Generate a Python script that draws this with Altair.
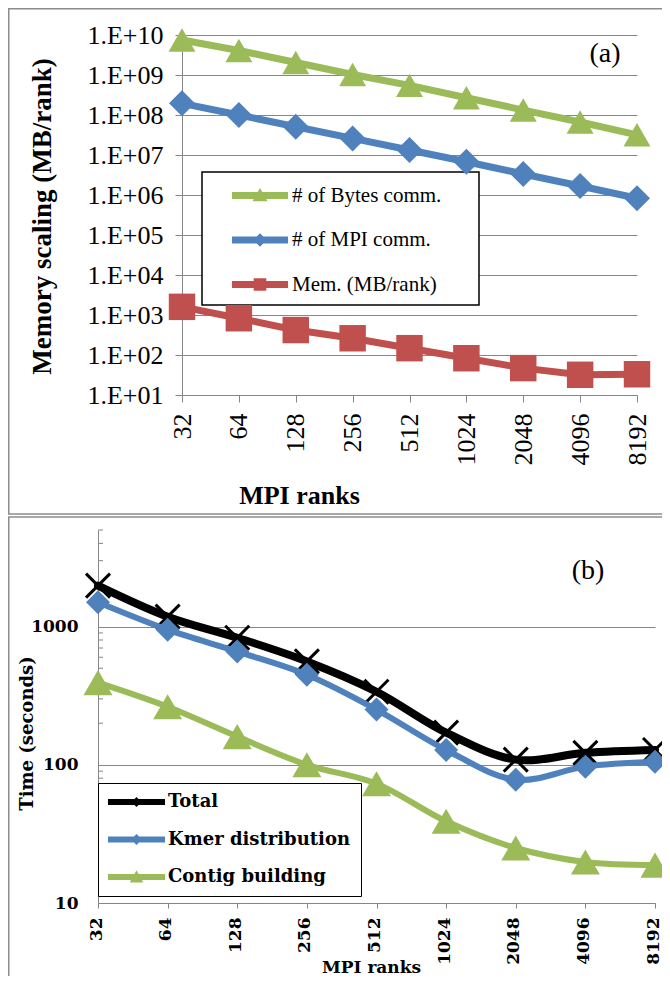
import altair as alt
import pandas as pd

# ---------------- data ----------------
ranks = ["32", "64", "128", "256", "512", "1024", "2048", "4096", "8192"]

# panel (a)
a_names = ["# of Bytes comm.", "# of MPI comm.", "Mem. (MB/rank)"]
a_bytes = [7.5e9, 4.1e9, 2.05e9, 1.03e9, 5.5e8, 2.7e8, 1.33e8, 6.7e7, 3.2e7]
a_mpi = [1.96e8, 1.0e8, 5.1e7, 2.6e7, 1.33e7, 6.8e6, 3.35e6, 1.68e6, 8.3e5]
a_mem = [1600, 830, 420, 262, 148, 83, 47, 32, 33]
a_colors = ["#9BBB59", "#4F81BD", "#C0504D"]
a_markers = ["triangle-up", "diamond", "square"]
a_marker_sizes = [729, 676, 700]
a_ytick_values = [1e1, 1e2, 1e3, 1e4, 1e5, 1e6, 1e7, 1e8, 1e9, 1e10]
a_ytick_labels = ["1.E+01", "1.E+02", "1.E+03", "1.E+04", "1.E+05",
                  "1.E+06", "1.E+07", "1.E+08", "1.E+09", "1.E+10"]
a_tag = ["(a)"]

# panel (b)
b_names = ["Total", "Kmer distribution", "Contig building"]
b_total = [1980, 1180, 830, 560, 338, 171, 109, 122, 128]
b_kmer = [1500, 950, 660, 449, 251, 128, 78, 97, 105]
b_contig = [393, 263, 160, 100, 73, 39, 25, 19.8, 18.8]
b_colors = ["#000000", "#4F81BD", "#9BBB59"]
b_ytick_values = [10, 100, 1000]
b_minor_ticks = [20, 30, 40, 50, 60, 70, 80, 90,
                 200, 300, 400, 500, 600, 700, 800, 900,
                 2000, 3000, 4000, 5000]
b_tag = ["(b)"]

df_a = pd.DataFrame({
    "rank": ranks * 3,
    "series": [a_names[0]] * 9 + [a_names[1]] * 9 + [a_names[2]] * 9,
    "value": a_bytes + a_mpi + a_mem,
})
df_b = pd.DataFrame({
    "rank": ranks * 3,
    "series": [b_names[0]] * 9 + [b_names[1]] * 9 + [b_names[2]] * 9,
    "value": b_total + b_kmer + b_contig,
})
df_ticks = pd.DataFrame({"value": b_minor_ticks})

# ---------------- layout ----------------
W, H = 654, 968
GRAY = "#868686"
FA = "Liberation Serif"
FB = "DejaVu Serif"

# legend symbols: thick line + small marker (custom paths)
bar_a = "M-2.67,-0.33L2.67,-0.33L2.67,0.33L-2.67,0.33Z"
a_legend_paths = [
    bar_a + "M0,-0.72L0.72,0.55L-0.72,0.55Z",
    bar_a + "M0,-0.65L0.65,0L0,0.65L-0.65,0Z",
    bar_a + "M-0.6,-0.6L0.6,-0.6L0.6,0.6L-0.6,0.6Z",
]
bar_b = "M-3.17,-0.33L3.17,-0.33L3.17,0.33L-3.17,0.33Z"
b_legend_paths = [
    bar_b + "M0,-0.55L0.55,0L0,0.55L-0.55,0Z",
    bar_b + "M0,-0.6L0.6,0L0,0.6L-0.6,0Z",
    bar_b + "M0,-0.75L0.75,0.6L-0.75,0.6Z",
]

one = pd.DataFrame({"k": [0]})

# ---------- panel (a) ----------
xa = alt.X("rank:O",
           scale=alt.Scale(type="point", domain=ranks, range=[174, 629], padding=0),
           axis=alt.Axis(orient="bottom", offset=-(H - 387), labelAngle=270,
                         grid=False, domainColor=GRAY, domainWidth=1,
                         tickColor=GRAY, tickSize=7, tickWidth=1,
                         labelFont=FA, labelFontSize=26, labelColor="black",
                         labelPadding=11, labelFlush=False,
                         title="MPI ranks", titleFont=FA, titleFontSize=26,
                         titleFontWeight="bold", titleColor="black",
                         titleX=291, titleY=100, titleAlign="center",
                         titleBaseline="middle"))
a_label_expr = "[" + ",".join("'%s'" % s for s in a_ytick_labels) + \
    "][round(log(datum.value)/LN10) - 1]"
ya = alt.Y("value:Q",
           scale=alt.Scale(type="log", domain=[1e1, 1e10], range=[387, 27], nice=False),
           axis=alt.Axis(orient="left", offset=-174, values=a_ytick_values,
                         labelExpr=a_label_expr, grid=True, gridColor=GRAY,
                         gridWidth=1, domainColor=GRAY, domainWidth=1,
                         tickColor=GRAY, tickSize=7, tickWidth=1,
                         labelFont=FA, labelFontSize=26, labelColor="black",
                         labelPadding=12, labelFlush=False, labelOverlap=False,
                         title="Memory scaling (MB/rank)", titleFont=FA,
                         titleFontSize=27, titleFontWeight="bold",
                         titleColor="black", titleAngle=270, titleX=-140,
                         titleY=208, titleAlign="center", titleBaseline="middle"))

# white legend frame (drawn over the gridlines, under the legend entries)
frame_a = alt.Chart(one).mark_rect(fill="white", stroke="black", strokeWidth=1.5).encode(
    x=alt.value(194), x2=alt.value(471), y=alt.value(164), y2=alt.value(297))

layers_a = [frame_a]
for name, col, mk, sz in zip(a_names, a_colors, a_markers, a_marker_sizes):
    base = alt.Chart(df_a).transform_filter(alt.datum.series == name)
    layers_a.append(base.mark_line(color=col, strokeWidth=7, strokeCap="round",
                                   strokeJoin="round").encode(x=xa, y=ya))
    layers_a.append(base.mark_point(shape=mk, filled=True, color=col, size=sz,
                                    opacity=1, strokeWidth=0).encode(x=xa, y=ya))

legend_a = alt.Legend(title=None, orient="none", legendX=194, legendY=164,
                      padding=13,
                      rowPadding=22.5, symbolSize=441, symbolOffset=34.5,
                      labelOffset=21.5, symbolStrokeWidth=0, symbolOpacity=1,
                      labelFont=FA, labelFontSize=21, labelColor="black",
                      labelLimit=500)
driver_a = alt.Chart(df_a).transform_filter("false").mark_point(
    filled=True, opacity=1).encode(
    color=alt.Color("series:N", scale=alt.Scale(domain=a_names, range=a_colors),
                    legend=legend_a),
    shape=alt.Shape("series:N", scale=alt.Scale(domain=a_names, range=a_legend_paths),
                    legend=legend_a),
)
panel_a = alt.layer(*layers_a, driver_a)

# ---------- panel (b) ----------
xb = alt.X("rank:O",
           scale=alt.Scale(type="point", domain=ranks, range=[90, 647], padding=0),
           axis=alt.Axis(orient="bottom", offset=-(H - 895), labelAngle=270,
                         grid=False, domainColor=GRAY, domainWidth=1,
                         tickColor=GRAY, tickSize=5, tickWidth=1,
                         labelFont=FB, labelFontSize=17, labelFontWeight="bold",
                         labelColor="black", labelPadding=9, labelFlush=False,
                         labelOffset=-2,
                         title="MPI ranks", titleFont=FB, titleFontSize=17,
                         titleFontWeight="bold", titleColor="black",
                         titleX=363, titleY=64, titleAlign="center",
                         titleBaseline="middle"))
yb = alt.Y("value:Q",
           scale=alt.Scale(type="log", domain=[10, 5000], range=[895, 522], nice=False),
           axis=alt.Axis(orient="left", offset=-90, values=b_ytick_values,
                         format="d", grid=True, gridColor=GRAY, gridWidth=1,
                         domainColor=GRAY, domainWidth=1, ticks=False,
                         labelFont=FB, labelFontSize=17, labelFontWeight="bold",
                         labelColor="black", labelPadding=20, labelFlush=False,
                         labelOverlap=False,
                         title="Time (seconds)", titleFont=FB, titleFontSize=18,
                         titleFontWeight="bold", titleColor="black",
                         titleAngle=270, titleX=-71, titleY=725,
                         titleAlign="center", titleBaseline="middle"))

minor = alt.Chart(df_ticks).mark_rule(color=GRAY, strokeWidth=1).encode(
    y=yb, x=alt.value(90), x2=alt.value(95))

layers_b = [minor]
b_styles = [
    dict(line=8, shape="M-1,-1L1,1M-1,1L1,-1", filled=False, size=576, sw=3),
    dict(line=6, shape="diamond", filled=True, size=576, sw=0),
    dict(line=6, shape="triangle-up", filled=True, size=841, sw=0),
]
for name, col, st in zip(b_names, b_colors, b_styles):
    base = alt.Chart(df_b).transform_filter(alt.datum.series == name)
    layers_b.append(base.mark_line(color=col, strokeWidth=st["line"],
                                   interpolate="catmull-rom", strokeCap="round",
                                   strokeJoin="round").encode(x=xb, y=yb))
    layers_b.append(base.mark_point(shape=st["shape"], filled=st["filled"],
                                    color=col, size=st["size"], opacity=1,
                                    strokeWidth=st["sw"]).encode(x=xb, y=yb))

legend_b = alt.Legend(title=None, orient="none", legendX=90, legendY=775,
                      fillColor="white", strokeColor="black", padding=10,
                      rowPadding=19.5, symbolSize=324, symbolOffset=19.5,
                      labelOffset=22.5, symbolStrokeWidth=0, symbolOpacity=1,
                      labelFont=FB, labelFontSize=18, labelFontWeight="bold",
                      labelColor="black", labelLimit=500)
driver_b = alt.Chart(df_b).transform_filter("false").mark_point(
    filled=True, opacity=1).encode(
    color=alt.Color("series:N", scale=alt.Scale(domain=b_names, range=b_colors),
                    legend=legend_b),
    shape=alt.Shape("series:N", scale=alt.Scale(domain=b_names, range=b_legend_paths),
                    legend=legend_b),
)
panel_b = alt.layer(*layers_b, driver_b)

# ---------- decorations ----------
border_a = alt.Chart(one).mark_rect(fillOpacity=0, stroke="#8c8c8c", strokeWidth=1.5).encode(
    x=alt.value(0.75), x2=alt.value(700), y=alt.value(0.75), y2=alt.value(506))
border_b = alt.Chart(one).mark_rect(fillOpacity=0, stroke="#8c8c8c", strokeWidth=1.5).encode(
    x=alt.value(0.75), x2=alt.value(700), y=alt.value(509), y2=alt.value(1000))
tag_a = alt.Chart(pd.DataFrame({"t": a_tag})).mark_text(
    font=FA, fontSize=28, color="black").encode(
    text="t:N", x=alt.value(597), y=alt.value(46))
tag_b = alt.Chart(pd.DataFrame({"t": b_tag})).mark_text(
    font=FA, fontSize=28, color="black").encode(
    text="t:N", x=alt.value(580), y=alt.value(563))

chart = alt.layer(border_a, border_b, panel_a, panel_b, tag_a, tag_b).resolve_scale(
    x="independent", y="independent", color="independent", shape="independent"
).properties(
    width=W, height=H, padding=0,
    autosize=alt.AutoSizeParams(type="none"),
    background="white",
).configure_view(stroke=None)

chart.save("out.html", embed_options={"renderer": "svg", "actions": False})
